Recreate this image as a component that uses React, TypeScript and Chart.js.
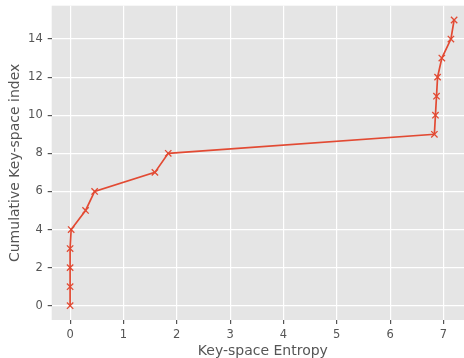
import React, { useEffect, useRef } from "react";
import { Chart, registerables } from "chart.js";

Chart.register(...registerables);

const entropy = [0, 0, 0, 0, 0.02, 0.29, 0.46, 1.59, 1.84, 6.83, 6.85, 6.87, 6.89, 6.97, 7.14, 7.2];
const keyIndex = [0, 1, 2, 3, 4, 5, 6, 7, 8, 9, 10, 11, 12, 13, 14, 15];
const xTicks = [0, 1, 2, 3, 4, 5, 6, 7];
const yTicks = [0, 2, 4, 6, 8, 10, 12, 14];
const xTitle = "Key-space Entropy";
const yTitle = "Cumulative Key-space index";

const bgPlugin = {
  id: "plotBg",
  beforeDraw(chart: any) {
    const { ctx, chartArea } = chart;
    ctx.save();
    ctx.fillStyle = "#E5E5E5";
    ctx.fillRect(chartArea.left, chartArea.top, chartArea.right - chartArea.left, chartArea.bottom - chartArea.top);
    ctx.restore();
  },
};

const zeroPad = (s: any) => {
  s.paddingTop = 0;
  s.paddingBottom = 0;
  s.paddingLeft = 0;
  s.paddingRight = 0;
};

export default function App() {
  const ref = useRef<HTMLCanvasElement>(null);
  useEffect(() => {
    document.body.style.margin = "0";
    document.body.style.overflow = "hidden";
    const data = entropy.map((x, i) => ({ x, y: keyIndex[i] }));
    const chart = new Chart(ref.current!, {
      type: "line",
      data: {
        datasets: [
          {
            data,
            borderColor: "#E24A33",
            backgroundColor: "#E24A33",
            borderWidth: 1.7,
            pointStyle: "crossRot",
            pointRadius: 4.5,
            pointBorderWidth: 1.3,
            pointBorderColor: "#E24A33",
            tension: 0,
            fill: false,
            clip: false,
          },
        ],
      },
      options: {
        responsive: false,
        animation: false,
        layout: { autoPadding: false, padding: { top: 5.7, right: 0, left: 0, bottom: 0 } },
        plugins: { legend: { display: false }, tooltip: { enabled: false } },
        scales: {
          x: {
            type: "linear",
            min: -0.345,
            max: 7.573,
            afterBuildTicks: (s: any) => {
              s.ticks = xTicks.map((v) => ({ value: v }));
            },
            afterFit: (s: any) => {
              s.height = 40;
              zeroPad(s);
            },
            grid: { color: "#FFFFFF", lineWidth: 1.2, tickColor: "#555555", tickLength: 4, drawTicks: true },
            border: { display: false },
            ticks: { color: "#555555", font: { family: "DejaVu Sans", size: 11.5 }, padding: 4, maxRotation: 0 },
            title: { display: true, text: xTitle, color: "#555555", font: { family: "DejaVu Sans", size: 14 }, padding: { top: 0, bottom: 0 } },
          },
          y: {
            type: "linear",
            min: -0.75,
            max: 15.75,
            afterBuildTicks: (s: any) => {
              s.ticks = yTicks.map((v) => ({ value: v }));
            },
            afterFit: (s: any) => {
              s.width = 51.7;
              zeroPad(s);
            },
            grid: { color: "#FFFFFF", lineWidth: 1.2, tickColor: "#555555", tickLength: 4, drawTicks: true },
            border: { display: false },
            ticks: { color: "#555555", font: { family: "DejaVu Sans", size: 11.5 }, padding: 5 },
            title: { display: true, text: yTitle, color: "#555555", font: { family: "DejaVu Sans", size: 14 }, padding: { top: 7, bottom: 0 } },
          },
        },
      },
      plugins: [bgPlugin],
    });
    return () => chart.destroy();
  }, []);
  return (
    <div style={{ position: "absolute", left: 0, top: 0, width: 464, height: 358, overflow: "hidden" }}>
      <canvas ref={ref} width={474} height={360} style={{ display: "block" }} />
    </div>
  );
}
